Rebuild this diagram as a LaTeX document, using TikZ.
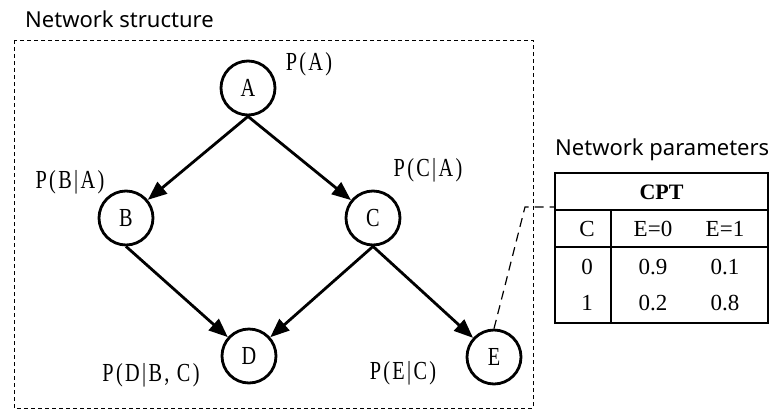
\documentclass[tikz,border=0pt]{standalone}
\usepackage{fontspec}
\setmainfont{Liberation Serif}
\setsansfont{Noto Sans}
\newfontfamily\lblfont{Liberation Serif}[FakeStretch=0.78, LetterSpace=9]
\usetikzlibrary{arrows.meta}
\begin{document}
\begin{tikzpicture}[x=1pt, y=-1pt,
  var/.style={circle, draw, line width=2.8pt, minimum size=54pt, inner sep=0pt,
    font=\lblfont\fontsize{26}{26}\selectfont},
  prob/.style={font=\lblfont\fontsize{26}{26}\selectfont, inner sep=0pt},
  link/.style={line width=2.8pt, -{Triangle[length=19pt, width=15pt]}},
  caption/.style={font=\sffamily\fontsize{22}{22}\selectfont, inner sep=0pt, anchor=base west},
  cell/.style={font=\fontsize{23}{23}\selectfont, inner sep=0pt},
  rule/.style={line width=2pt}]
\useasboundingbox (0,0) rectangle (776,410);

% network structure frame
\draw[line width=1pt, dash pattern=on 4pt off 3pt] (14,40) rectangle (533,408);
\node[caption] (structcap) at (25,27) {Network structure};

% variables
\node[var] (A) at (248,88) {A};
\node[var] (B) at (126,218) {B};
\node[var] (C) at (373,218) {C};
\node[var] (D) at (249,356) {D};
\node[var] (E) at (494,357) {E};

% probability labels
\node[prob] (pA) at (309,64) {P(A)};
\node[prob] (pB) at (70,182) {P(B|A)};
\node[prob] (pC) at (428,170) {P(C|A)};
\node[prob] (pD) at (151,375) {P(D|B, C)};
\node[prob] (pE) at (403,373) {P(E|C)};

% edges
\draw[link] (A.south) -- (B);
\draw[link] (A.south) -- (C);
\draw[link] (B.south) -- (D);
\draw[link] (C.south) -- (D);
\draw[link] (C.south) -- (E);

% conditional probability table
\node[caption] (paramcap) at (555,155) {Network parameters};
\node[draw, rule, minimum width=213pt, minimum height=150pt, inner sep=0pt] (tbl) at (661.5,248) {};
\draw[rule] (555,210) -- (768,210);
\draw[rule] (555,247) -- (768,247);
\draw[line width=2.5pt] (611,210) -- (611,323);
\node[cell, font=\bfseries\fontsize{22}{22}\selectfont] (cpt) at (661.5,192) {CPT};
\node[cell] (hc) at (587,229) {C};
\node[cell] (he0) at (653,229) {E=0};
\node[cell] (he1) at (725,229) {E=1};
\node[cell] (r0) at (587,267) {0};
\node[cell] (r0a) at (653,267) {0.9};
\node[cell] (r0b) at (725,267) {0.1};
\node[cell] (r1) at (587,303) {1};
\node[cell] (r1a) at (653,303) {0.2};
\node[cell] (r1b) at (725,303) {0.8};

% link from E to its table
\coordinate (bend) at (525,207);
\coordinate (tin) at (555,207);
\draw[line width=1.2pt, dash pattern=on 9pt off 6pt] (E.north) -- (bend) -- (tin);
\end{tikzpicture}
\end{document}
